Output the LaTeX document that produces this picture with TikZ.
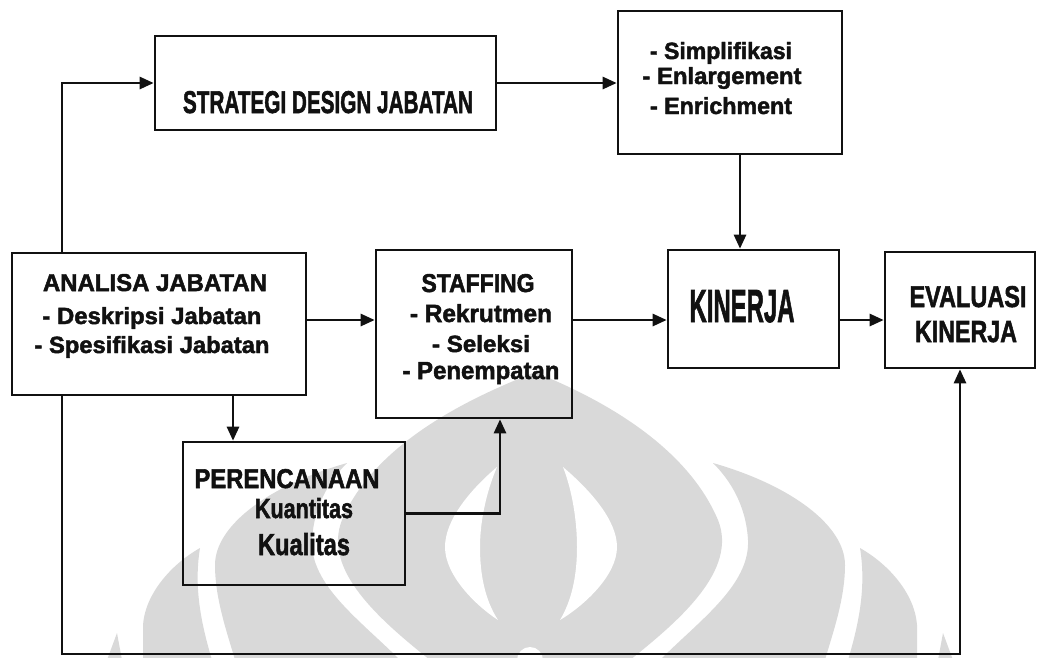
\documentclass[tikz,border=0pt]{standalone}
\usepackage{fontspec}
\setmainfont{Liberation Sans}
\newfontfamily\heavyfont{Liberation Sans}[FakeBold=2]
\usepackage{graphicx}
\usetikzlibrary{arrows.meta}
\definecolor{wm}{HTML}{D9D9D9}
\definecolor{ink}{HTML}{111111}
% one line of condensed heavy text, scaled to a given width and cap height
\newcommand{\fitline}[3]{\resizebox{#1pt}{#2pt}{\heavyfont\bfseries #3}}

\begin{document}
\begin{tikzpicture}[x=1pt,y=-1pt,
  bx/.style={draw=ink, line width=2.6pt, inner sep=0pt},
  tx/.style={inner sep=0pt, anchor=base, text=ink},
  link/.style={draw=ink, line width=2.6pt, -{Triangle[length=14pt,width=12pt]}},
  wmshape/.style={fill=wm, draw=none}]
\useasboundingbox (0,0) rectangle (1044,657);

% faint emblem in the background
\begin{scope}
  \clip (0,0) rectangle (1044,657);
  % central arch
  \path[wmshape] (535,372) .. controls (565,385) and (680,430) .. (718,520)
        .. controls (738,570) and (680,620) .. (630,660) -- (430,660)
        .. controls (380,620) and (322,570) .. (342,520)
        .. controls (380,430) and (505,385) .. (535,372) -- cycle;
  % white crescents inside the central arch
  \fill[white] (497,467) .. controls (470,490) and (445,520) .. (445,547)
        .. controls (445,575) and (475,605) .. (498,620)
        .. controls (485,600) and (480,575) .. (480,547)
        .. controls (480,520) and (487,490) .. (497,467) -- cycle;
  \fill[white] (563,467) .. controls (590,490) and (617,520) .. (617,547)
        .. controls (617,575) and (585,605) .. (560,620)
        .. controls (572,600) and (577,575) .. (577,547)
        .. controls (577,520) and (572,490) .. (563,467) -- cycle;
  \fill[white] (530,660) circle (13pt);
  % second pair of side leaves
  \path[wmshape] (713,463) .. controls (790,485) and (845,525) .. (845,565)
        .. controls (845,600) and (832,635) .. (825,660) -- (660,660)
        .. controls (700,620) and (750,585) .. (748,540)
        .. controls (746,505) and (730,480) .. (713,463) -- cycle;
  \path[wmshape] (347,463) .. controls (270,485) and (215,525) .. (215,565)
        .. controls (215,600) and (228,635) .. (235,660) -- (400,660)
        .. controls (360,620) and (310,585) .. (312,540)
        .. controls (314,505) and (330,480) .. (347,463) -- cycle;
  % third pair of side leaves
  \path[wmshape] (860,548) .. controls (890,565) and (915,595) .. (917,625)
        -- (917,660) -- (848,660)
        .. controls (860,620) and (866,585) .. (860,548) -- cycle;
  \path[wmshape] (200,548) .. controls (170,565) and (145,595) .. (143,625)
        -- (143,660) -- (212,660)
        .. controls (200,620) and (194,585) .. (200,548) -- cycle;
  % outermost tips
  \path[wmshape] (943,633) -- (953,660) -- (938,660) -- cycle;
  \path[wmshape] (117,633) -- (107,660) -- (122,660) -- cycle;
\end{scope}

% boxes
\node[bx, minimum width=341pt, minimum height=94pt]  (strat) at (325.5,83)  {};
\node[bx, minimum width=224pt, minimum height=143pt] (simp)  at (730,82.5)  {};
\node[bx, minimum width=294pt, minimum height=142pt] (anal)  at (159,324)   {};
\node[bx, minimum width=196pt, minimum height=168pt] (staff) at (474,334)   {};
\node[bx, minimum width=171pt, minimum height=118pt] (kin)   at (753.5,309) {};
\node[bx, minimum width=150pt, minimum height=116pt] (eval)  at (960,310)   {};
\node[bx, minimum width=222pt, minimum height=143pt] (pere)  at (294,513.5) {};

% box texts
\node[tx] (tstrat) at (328,113) {\fitline{290}{22}{STRATEGI DESIGN JABATAN}};

\node[tx] (tsimp1) at (721,59)  {\fitline{142}{17}{- Simplifikasi}};
\node[tx] (tsimp2) at (722,84)  {\fitline{159}{17}{- Enlargement}};
\node[tx] (tsimp3) at (721,114) {\fitline{142}{17}{- Enrichment}};

\node[tx] (tanal1) at (155,291) {\fitline{224}{17}{ANALISA JABATAN}};
\node[tx] (tanal2) at (152,324) {\fitline{219}{17}{- Deskripsi Jabatan}};
\node[tx] (tanal3) at (152,353) {\fitline{235}{17}{- Spesifikasi Jabatan}};

\node[tx] (tstaff1) at (478,292) {\fitline{113}{18}{STAFFING}};
\node[tx] (tstaff2) at (481,322) {\fitline{142}{18}{- Rekrutmen}};
\node[tx] (tstaff3) at (481,352) {\fitline{98}{17}{- Seleksi}};
\node[tx] (tstaff4) at (481,379) {\fitline{157}{17}{- Penempatan}};

\node[tx] (tkin) at (742,322) {\fitline{105}{32}{KINERJA}};

\node[tx] (teval1) at (968,307) {\fitline{117}{21}{EVALUASI}};
\node[tx] (teval2) at (966,342) {\fitline{102}{21}{KINERJA}};

\node[tx] (tpere1) at (287,488) {\fitline{185}{19}{PERENCANAAN}};
\node[tx] (tpere2) at (304,518) {\fitline{98}{20}{Kuantitas}};
\node[tx] (tpere3) at (304,555) {\fitline{92}{22}{Kualitas}};

% guide coordinates for the connector lanes
\coordinate (xL) at (62,0);
\coordinate (xS) at (740,0);
\coordinate (xP) at (233,0);
\coordinate (xR) at (500,0);
\coordinate (row) at (0,320);
\coordinate (yB) at (0,654);

% connectors
\draw[link] (anal.north -| xL) |- (strat.west);
\draw[link] (strat.east) -- (simp.west |- strat.east);
\draw[link] (simp.south -| xS) -- (kin.north -| xS);
\draw[link] (anal.east |- row) -- (staff.west |- row);
\draw[link] (staff.east |- row) -- (kin.west |- row);
\draw[link] (kin.east |- row) -- (eval.west |- row);
\draw[link] (anal.south -| xP) -- (pere.north -| xP);
\draw[link] (pere.east) -| (staff.south -| xR);
\draw[link] (anal.south -| xL) |- (eval.south |- yB) -- (eval.south);
\end{tikzpicture}
\end{document}
